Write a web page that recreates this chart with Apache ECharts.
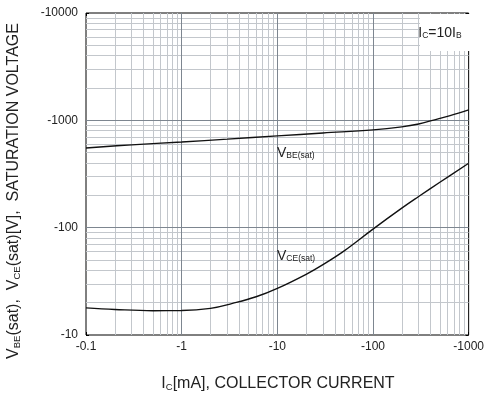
<!DOCTYPE html>
<html>
<head>
<meta charset="utf-8">
<script src="https://cdn.jsdelivr.net/npm/echarts@6/dist/echarts.min.js"></script>
<style>html,body{margin:0;padding:0;background:#fff}#c{width:487px;height:401px}</style>
</head>
<body>
<div id="c"></div>
<script>
// Collector current magnitudes [mA] and saturation voltages [mV] (axis shows negatives)
const vbeCurrent = [0.1, 0.3, 1, 3, 10, 30, 100, 200, 300, 430, 640, 1000];
const vbeVoltage = [553, 591, 628, 668, 716, 762, 815, 870, 925, 1005, 1106, 1250];
const vceCurrent = [0.1, 0.2, 0.5, 1, 2, 3.4, 6, 10, 20, 30, 50, 100, 200, 300, 500, 1000];
const vceVoltage = [17.9, 17.3, 16.85, 16.9, 17.7, 19.7, 22.7, 27.2, 36.8, 45.3, 60.8, 97, 152, 195, 265, 398];
const xMajorTicks = [0.1, 1, 10, 100, 1000];
const yMajorTicks = [10, 100, 1000, 10000];
const minorMultipliers = [2, 3, 4, 5, 6, 7, 8, 9];

function minorsFor(majors) {
  const out = [];
  for (let i = 0; i < majors.length - 1; i++) {
    for (const m of minorMultipliers) out.push(+(majors[i] * m).toPrecision(6));
  }
  return out;
}
const xMinor = minorsFor(xMajorTicks);
const yMinor = minorsFor(yMajorTicks);
const xAll = xMajorTicks.concat(xMinor).sort((a, b) => a - b);
const yAll = yMajorTicks.concat(yMinor).sort((a, b) => a - b);

const FONT = 'Liberation Sans, Arial, sans-serif';
const MAJOR = '#7d8690';
const MINOR = '#c3c7cc';
const TXT = '#222';
const neg = v => '-' + (+v).toString();

const chart = echarts.init(document.getElementById('c'), null, {renderer: 'canvas'});

const baseX = {
  type: 'log', logBase: 10, min: 0.1, max: 1000,
  axisLine: {show: false},
  splitLine: {show: false},
  axisLabel: {show: false},
  axisTick: {show: true, inside: true, length: 3, customValues: xAll, lineStyle: {color: '#000', width: 1}}
};
const baseY = {
  type: 'log', logBase: 10, min: 10, max: 10000,
  axisLine: {show: false},
  splitLine: {show: false},
  axisLabel: {show: false},
  axisTick: {show: true, inside: true, length: 3, customValues: yAll, lineStyle: {color: '#000', width: 1}}
};
const sub = {fontSize: 8.5, fontFamily: FONT, verticalAlign: 'bottom', fill: TXT};
const subBig = {fontSize: 9.5, fontFamily: FONT, verticalAlign: 'bottom', fill: TXT};

chart.setOption({
  animation: false,
  backgroundColor: '#fff',
  textStyle: {fontFamily: FONT},
  grid: {left: 86, right: 15, top: 13, bottom: 66, show: true, borderColor: '#000', borderWidth: 1, backgroundColor: 'transparent'},
  xAxis: [
    Object.assign({}, baseX, {
      position: 'bottom',
      axisLabel: {show: true, customValues: xMajorTicks, formatter: neg, color: TXT, fontSize: 12, margin: 6, fontFamily: FONT}
    }),
    Object.assign({}, baseX, {position: 'top'})
  ],
  yAxis: [
    Object.assign({}, baseY, {
      position: 'left',
      axisLabel: {show: true, customValues: yMajorTicks, formatter: neg, color: TXT, fontSize: 12, margin: 8, fontFamily: FONT}
    }),
    Object.assign({}, baseY, {position: 'right'})
  ],
  series: [
    {
      type: 'line', name: 'minor grid', xAxisIndex: 0, yAxisIndex: 0, data: [], silent: true,
      markLine: {
        silent: true, symbol: ['none', 'none'], label: {show: false},
        lineStyle: {color: MINOR, width: 1, type: 'solid'},
        emphasis: {disabled: true},
        data: xMinor.map(v => ({xAxis: v})).concat(yMinor.map(v => ({yAxis: v})))
      }
    },
    {
      type: 'line', name: 'major grid', xAxisIndex: 0, yAxisIndex: 0, data: [], silent: true,
      markLine: {
        silent: true, symbol: ['none', 'none'], label: {show: false},
        lineStyle: {color: MAJOR, width: 1, type: 'solid'},
        emphasis: {disabled: true},
        data: xMajorTicks.slice(1, -1).map(v => ({xAxis: v})).concat(yMajorTicks.slice(1, -1).map(v => ({yAxis: v})))
      }
    },
    {
      type: 'line', name: 'VBE(sat)', xAxisIndex: 0, yAxisIndex: 0, smooth: 0.4, showSymbol: false, zlevel: 1, z: 10,
      lineStyle: {color: '#111', width: 1.4},
      data: vbeCurrent.map((x, i) => [x, vbeVoltage[i]])
    },
    {
      type: 'line', name: 'VCE(sat)', xAxisIndex: 0, yAxisIndex: 0, smooth: 0.4, showSymbol: false, zlevel: 1, z: 10,
      lineStyle: {color: '#111', width: 1.4},
      data: vceCurrent.map((x, i) => [x, vceVoltage[i]])
    }
  ],
  graphic: [
    {type: 'rect', zlevel: 1, shape: {x: 420, y: 14, width: 50, height: 37}, style: {fill: '#fff'}, z: 20},
    {type: 'text', zlevel: 1, x: 440, y: 33, z: 21, style: {
      text: 'I{s|C}=10I{s|B}', align: 'center', verticalAlign: 'middle', fill: TXT,
      font: '14px ' + FONT, rich: {s: sub}
    }},
    {type: 'text', zlevel: 1, x: 277, y: 160, z: 21, style: {
      text: 'V{s|BE(sat)}', align: 'left', verticalAlign: 'bottom', fill: TXT,
      font: '14px ' + FONT, rich: {s: sub}
    }},
    {type: 'text', zlevel: 1, x: 277, y: 263, z: 21, style: {
      text: 'V{s|CE(sat)}', align: 'left', verticalAlign: 'bottom', fill: TXT,
      font: '14px ' + FONT, rich: {s: sub}
    }},
    {type: 'text', zlevel: 1, x: 278, y: 384, z: 21, style: {
      text: 'I{s|C}[mA], COLLECTOR CURRENT', align: 'center', verticalAlign: 'middle', fill: TXT,
      font: '16px ' + FONT, rich: {s: subBig}
    }},
    {type: 'text', zlevel: 1, x: 14, y: 191, rotation: Math.PI / 2, z: 21, style: {
      text: 'V{s|BE}(sat),  V{s|CE}(sat)[V],  SATURATION VOLTAGE', align: 'center', verticalAlign: 'middle', fill: TXT,
      font: '16px ' + FONT, rich: {s: subBig}
    }}
  ]
});
</script>
</body>
</html>
